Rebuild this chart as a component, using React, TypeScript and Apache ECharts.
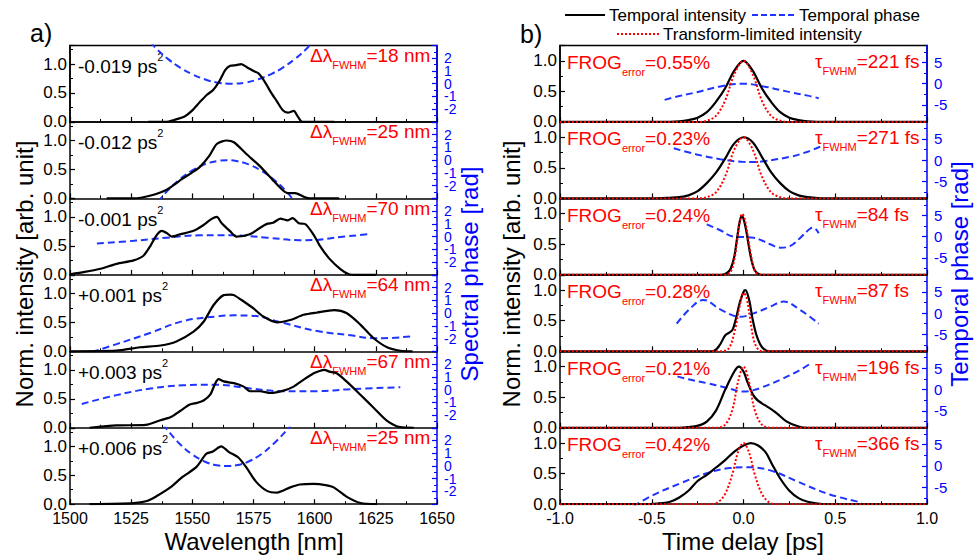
import React, { useEffect, useRef } from "react";
import * as echarts from "echarts";

const FONT = "'Liberation Sans', Arial, Helvetica, sans-serif";
const BLUE = "#0000ff";
const LINE_BLUE = "#1f35ff";
const RED = "#ff0000";

// ---------- labels ----------
const chirpLabels = ["-0.019", "-0.012", "-0.001", "+0.001", "+0.003", "+0.006"];
const bandwidthNm = [18, 25, 70, 64, 67, 25];
const frogErrors = ["0.55", "0.23", "0.24", "0.28", "0.21", "0.42"];
const pulseFs = [221, 271, 84, 87, 196, 366];

// ---------- panel a) spectra [wavelength nm, normalized intensity] ----------
const spec1 = [[1532,0],[1539,0],[1543,0.04],[1547,0.1],[1550,0.2],[1553,0.34],[1556,0.47],[1558.5,0.55],[1561,0.7],[1563.5,0.9],[1565.5,0.97],[1568,0.98],[1570,1.0],[1572.5,0.94],[1575,0.88],[1577,0.84],[1579.5,0.7],[1582,0.52],[1584.5,0.36],[1587,0.2],[1589,0.16],[1591.5,0.19],[1593,0.1],[1595,0],[1608,0]];
const spec2 = [[1515,0],[1526,0],[1533,0.05],[1539.5,0.15],[1546,0.34],[1550,0.45],[1553,0.54],[1557,0.74],[1560,0.94],[1564,1.0],[1567,0.97],[1572,0.77],[1578,0.54],[1583,0.31],[1587,0.14],[1589,0.09],[1592,0.09],[1595.5,0.03],[1598,0],[1610,0]];
const spec3 = [[1500,0.01],[1506,0.05],[1512,0.1],[1519,0.19],[1526,0.25],[1530,0.33],[1533,0.51],[1535.5,0.69],[1537.5,0.76],[1539.6,0.72],[1541.6,0.66],[1545,0.7],[1550.5,0.76],[1554.6,0.86],[1557.3,0.95],[1560,1.0],[1562,0.89],[1565.5,0.75],[1568,0.66],[1573.5,0.7],[1577.6,0.81],[1580.5,0.88],[1583,0.9],[1586,0.97],[1589,0.94],[1591,0.98],[1593.5,0.89],[1596,0.88],[1599.6,0.69],[1602,0.51],[1606,0.28],[1610.5,0.1],[1614,0.01],[1617,0],[1625,0]];
const spec4 = [[1500,0],[1519,0.01],[1528.6,0.07],[1537,0.1],[1543.5,0.17],[1550.5,0.34],[1554.6,0.51],[1558.7,0.8],[1562.8,0.97],[1565.5,0.98],[1567,0.97],[1571,0.86],[1575,0.74],[1579,0.6],[1584.6,0.5],[1590,0.54],[1595.5,0.63],[1601,0.67],[1608,0.71],[1613,0.66],[1618.7,0.46],[1624,0.23],[1629.6,0.07],[1635,0.01],[1640,0]];
const spec5 = [[1508,0],[1519,0.04],[1531,0.05],[1537,0.13],[1541,0.18],[1545,0.29],[1549,0.4],[1552,0.43],[1554.6,0.47],[1557.3,0.57],[1559.4,0.77],[1560.7,0.84],[1562.8,0.8],[1567,0.77],[1571,0.71],[1573.6,0.63],[1577.6,0.63],[1582,0.6],[1587.3,0.64],[1591.4,0.71],[1595.5,0.83],[1599.6,0.94],[1602,0.98],[1604,1.0],[1606,0.97],[1609,0.94],[1613,0.8],[1618.7,0.57],[1624,0.35],[1629.6,0.12],[1635,0.01],[1640.5,0]];
const spec6 = [[1508,0],[1526,0.02],[1531,0.05],[1535,0.13],[1541,0.29],[1546,0.47],[1551.6,0.64],[1555.7,0.87],[1558.4,0.91],[1561.8,1.0],[1565,0.9],[1568.7,0.81],[1572,0.64],[1576,0.39],[1580.5,0.23],[1584.6,0.2],[1590,0.29],[1594,0.34],[1599.6,0.35],[1604.4,0.33],[1607.8,0.29],[1613,0.13],[1618.7,0.02],[1625.5,0]];

// spectral phase [wavelength nm, rad]
const sph1 = [[1533,3.3],[1535,2.8],[1540,1.95],[1545,1.27],[1550,0.74],[1555,0.35],[1560,0.1],[1566,0],[1572,0.1],[1577,0.35],[1582,0.74],[1587,1.27],[1592,1.95],[1597,2.8],[1599,3.3]];
const sph2 = [[1536,-3.3],[1540,-2.36],[1545,-1.48],[1550,-0.8],[1555,-0.33],[1560,-0.07],[1564,0],[1568,-0.07],[1573,-0.33],[1578,-0.8],[1583,-1.48],[1588,-2.36],[1592,-3.3]];
const sph3 = [[1511,-0.54],[1526,-0.33],[1539.6,-0.08],[1553,0.1],[1567,0.1],[1580.5,-0.08],[1594,-0.28],[1601,-0.26],[1608,-0.08],[1621.5,0.18]];
const sph4 = [[1509,-3.05],[1519,-2.44],[1533,-1.54],[1546,-0.64],[1560,-0.26],[1567,-0.18],[1574,-0.2],[1587,-0.77],[1601,-1.41],[1614.6,-1.74],[1624,-1.97],[1628,-1.97],[1640.5,-1.8]];
const sph5 = [[1504.8,-1.13],[1519,-0.44],[1533,0.08],[1546,0.33],[1560,0.38],[1573.6,0.08],[1587,-0.13],[1601,-0.13],[1614.6,0.03],[1635,0.18]];
const sph6 = [[1538,3.3],[1539.5,2.9],[1545,1.7],[1550,0.9],[1555,0.35],[1560,0.05],[1564,0],[1568,0.05],[1573,0.35],[1578,0.9],[1583,1.7],[1589,2.9],[1590.5,3.3]];

// ---------- panel b) temporal intensity [delay ps, normalized] ----------
const pulse1 = [[-1,0],[-0.45,0],[-0.35,0.01],[-0.3,0.03],[-0.25,0.07],[-0.2,0.16],[-0.15,0.33],[-0.1,0.55],[-0.05,0.84],[0,1.0],[0.05,0.84],[0.1,0.55],[0.15,0.33],[0.2,0.16],[0.25,0.07],[0.3,0.03],[0.35,0.01],[0.45,0],[1,0]];
const pulse2 = [[-1,0],[-0.5,0],[-0.4,0.01],[-0.35,0.02],[-0.3,0.05],[-0.25,0.12],[-0.2,0.25],[-0.15,0.42],[-0.1,0.65],[-0.05,0.9],[0,1.0],[0.05,0.92],[0.1,0.68],[0.15,0.43],[0.2,0.25],[0.25,0.12],[0.3,0.05],[0.35,0.02],[0.45,0],[1,0]];
const pulse3 = [[-1,0],[-0.12,0],[-0.09,0.03],[-0.07,0.1],[-0.05,0.3],[-0.035,0.6],[-0.02,0.88],[-0.01,0.96],[0,0.92],[0.015,0.72],[0.03,0.45],[0.045,0.22],[0.06,0.08],[0.08,0.02],[0.1,0],[1,0]];
const pulse4 = [[-1,0],[-0.2,0],[-0.16,0.01],[-0.13,0.1],[-0.1,0.26],[-0.08,0.3],[-0.06,0.35],[-0.04,0.55],[-0.02,0.8],[0,0.97],[0.01,1.0],[0.03,0.85],[0.05,0.52],[0.07,0.27],[0.09,0.12],[0.11,0.04],[0.14,0],[1,0]];
const pulse5 = [[-1,0],[-0.35,0],[-0.3,0.01],[-0.25,0.03],[-0.2,0.1],[-0.15,0.28],[-0.1,0.62],[-0.05,0.92],[-0.025,1.0],[0,0.92],[0.02,0.76],[0.05,0.55],[0.073,0.46],[0.1,0.4],[0.127,0.35],[0.18,0.24],[0.236,0.1],[0.3,0.02],[0.35,0],[1,0]];
const pulse6 = [[-1,0],[-0.55,0],[-0.47,0.01],[-0.4,0.04],[-0.35,0.11],[-0.3,0.22],[-0.25,0.38],[-0.2,0.48],[-0.15,0.6],[-0.1,0.72],[-0.05,0.86],[0,0.96],[0.04,1.0],[0.08,0.96],[0.12,0.85],[0.16,0.63],[0.2,0.42],[0.25,0.22],[0.3,0.1],[0.35,0.04],[0.45,0],[1,0]];

// transform-limited intensity
const tl1 = [[-1,0],[-0.25,0],[-0.2,0.02],[-0.15,0.1],[-0.1,0.35],[-0.05,0.78],[0,1.0],[0.05,0.78],[0.1,0.35],[0.15,0.1],[0.2,0.02],[0.25,0],[1,0]];
const tl2 = [[-1,0],[-0.25,0],[-0.2,0.02],[-0.15,0.1],[-0.1,0.36],[-0.05,0.8],[0,1.0],[0.05,0.8],[0.1,0.36],[0.15,0.1],[0.2,0.02],[0.25,0],[1,0]];
const tl3 = [[-1,0],[-0.1,0],[-0.07,0.05],[-0.05,0.25],[-0.035,0.55],[-0.02,0.88],[-0.008,1.0],[0.005,0.93],[0.02,0.7],[0.035,0.42],[0.05,0.18],[0.065,0.05],[0.09,0],[1,0]];
const tl4 = [[-1,0],[-0.12,0],[-0.08,0.05],[-0.05,0.3],[-0.02,0.75],[0,0.95],[0.015,0.9],[0.035,0.55],[0.055,0.2],[0.075,0.05],[0.1,0],[1,0]];
const tl5 = [[-1,0],[-0.15,0],[-0.1,0.05],[-0.06,0.3],[-0.03,0.75],[0,1.0],[0.03,0.75],[0.06,0.3],[0.1,0.05],[0.15,0],[1,0]];
const tl6 = [[-1,0],[-0.18,0],[-0.14,0.03],[-0.1,0.17],[-0.06,0.5],[-0.03,0.85],[0,1.0],[0.03,0.85],[0.06,0.5],[0.1,0.17],[0.14,0.03],[0.18,0],[1,0]];

// temporal phase [delay ps, rad]
const tph1 = [[-0.43,-3.8],[-0.35,-2.9],[-0.255,-2.0],[-0.127,-0.63],[0,0],[0.11,-0.63],[0.255,-2.0],[0.35,-2.8],[0.41,-3.4]];
const tph2 = [[-0.38,2.8],[-0.255,1.35],[-0.127,0.24],[0,-0.4],[0.05,-0.45],[0.11,-0.24],[0.255,0.8],[0.35,2.0],[0.418,3.2]];
const tph3 = [[-0.2,2.9],[-0.127,1.5],[-0.055,0],[0,-0.1],[0.055,-0.24],[0.1,-0.9],[0.145,-1.8],[0.2,-2.6],[0.255,-2.2],[0.31,-0.24],[0.364,1.9],[0.38,2.1],[0.41,0.8]];
const tph4 = [[-0.364,-2.5],[-0.29,1.1],[-0.218,3.1],[-0.127,0.87],[-0.018,-0.87],[0.055,-0.08],[0.145,1.5],[0.218,2.7],[0.31,0.7],[0.41,-2.5]];
const tph5 = [[-0.36,3.1],[-0.3,2.4],[-0.2,1.5],[-0.1,0.5],[0,-0.45],[0.05,-0.2],[0.1,0.5],[0.2,2.3],[0.3,4.4],[0.36,6.0]];
const tph6 = [[-0.6,-9.5],[-0.49,-6.8],[-0.345,-4.1],[-0.2,-1.7],[-0.073,-0.5],[0.036,-0.3],[0.164,-1.3],[0.29,-3.6],[0.47,-6.7],[0.645,-8.6]];

const spectra = [spec1, spec2, spec3, spec4, spec5, spec6];
const spectralPhases = [sph1, sph2, sph3, sph4, sph5, sph6];
const pulses = [pulse1, pulse2, pulse3, pulse4, pulse5, pulse6];
const tlPulses = [tl1, tl2, tl3, tl4, tl5, tl6];
const temporalPhases = [tph1, tph2, tph3, tph4, tph5, tph6];

const phaseMajorB = [-5, 0, 5];
const phaseMinorB = [-7.5, -2.5, 2.5, 7.5];

function buildOption() {
  const grids: any[] = [];
  const xAxes: any[] = [];
  const yAxes: any[] = [];
  const series: any[] = [];
  const graphics: any[] = [];
  const TOP0 = 45.5;
  const SUB_H = 76.45;

  const tickCommon = (color: string) => ({
    show: true,
    inside: true,
    length: 5,
    lineStyle: { color, width: 1.2 },
  });
  const minorCommon = (color: string) => ({
    show: true,
    splitNumber: 2,
    length: 3,
    lineStyle: { color, width: 1 },
  });

  for (let p = 0; p < 2; p++) {
    for (let k = 0; k < 6; k++) {
      const gi = grids.length;
      const top = TOP0 + k * SUB_H;
      const left = p ? 560 : 70;
      grids.push({
        left,
        top,
        width: 367,
        height: SUB_H,
        show: k === 0,
        borderColor: "#000",
        borderWidth: 1.5,
        backgroundColor: "transparent",
        containLabel: false,
        outerBoundsMode: "none",
      });
      xAxes.push({
        gridIndex: gi,
        type: "value",
        position: "bottom",
        min: p ? -1 : 1500,
        max: p ? 1 : 1650,
        interval: p ? 0.5 : 25,
        axisLine: { show: true, onZero: false, lineStyle: { color: "#000", width: 1.5 } },
        axisTick: tickCommon("#000"),
        minorTick: minorCommon("#000"),
        splitLine: { show: false },
        axisLabel: {
          show: k === 5,
          color: "#000",
          fontSize: 16,
          fontFamily: FONT,
          margin: 6,
          formatter: (v: number) => (p ? v.toFixed(1) : String(v)),
        },
      });
      const yL = yAxes.length;
      yAxes.push({
        gridIndex: gi,
        type: "value",
        position: "left",
        min: 0,
        max: p ? 1.25 : 1.32,
        interval: 0.5,
        axisLine: { show: true, onZero: false, lineStyle: { color: "#000", width: 1.5 } },
        axisTick: tickCommon("#000"),
        minorTick: minorCommon("#000"),
        splitLine: { show: false },
        axisLabel: {
          color: "#000",
          fontSize: 17,
          lineHeight: 16,
          fontFamily: FONT,
          margin: 3,
          formatter: (v: number) => {
            const r = Math.round(v * 100) / 100;
            return r === 0 || r === 0.5 || r === 1 ? r.toFixed(1) : "";
          },
        },
      });
      const yR = yAxes.length;
      if (p === 0) {
        yAxes.push({
          gridIndex: gi,
          type: "value",
          position: "right",
          min: -3,
          max: 3,
          interval: 1,
          axisLine: { show: true, onZero: false, lineStyle: { color: BLUE, width: 1.5 } },
          axisTick: tickCommon(BLUE),
          minorTick: minorCommon(BLUE),
          splitLine: { show: false },
          axisLabel: {
            color: BLUE,
            fontSize: 14,
            lineHeight: 12,
            fontFamily: FONT,
            margin: 7,
            formatter: (v: number) => (Math.abs(v) > 2.5 ? "" : String(Math.round(v))),
          },
        });
      } else {
        yAxes.push({
          gridIndex: gi,
          type: "value",
          position: "right",
          min: -9,
          max: 9,
          axisLine: { show: true, onZero: false, lineStyle: { color: BLUE, width: 1.5 } },
          axisTick: { ...tickCommon(BLUE), customValues: phaseMajorB },
          splitLine: { show: false },
          axisLabel: {
            color: BLUE,
            fontSize: 15,
            lineHeight: 14,
            fontFamily: FONT,
            margin: 7,
            customValues: phaseMajorB,
            formatter: (v: number) => {
              const r = Math.round(v);
              return Math.abs(v - r) < 1e-6 && r % 5 === 0 && Math.abs(r) < 9 ? String(r) : "";
            },
          },
        });
        yAxes.push({
          gridIndex: gi,
          type: "value",
          position: "right",
          min: -9,
          max: 9,
          axisLine: { show: false, onZero: false },
          axisTick: { show: true, inside: true, length: 3, customValues: phaseMinorB, lineStyle: { color: BLUE, width: 1 } },
          splitLine: { show: false },
          axisLabel: { show: false },
        });
      }

      const base = { type: "line", xAxisIndex: gi, symbol: "none", showSymbol: false, silent: true, emphasis: { disabled: true }, clip: true };
      if (p === 0) {
        series.push({ ...base, name: "Spectral phase", yAxisIndex: yR, data: spectralPhases[k], smooth: 0.4, z: 2, lineStyle: { color: LINE_BLUE, width: 2, type: [7, 4] } });
        series.push({ ...base, name: "Spectrum", yAxisIndex: yL, data: spectra[k], smooth: 0.25, z: 3, lineStyle: { color: "#000", width: 2.2 } });
      } else {
        series.push({ ...base, name: "Temporal phase", yAxisIndex: yR, data: temporalPhases[k], smooth: 0.4, z: 2, lineStyle: { color: LINE_BLUE, width: 2, type: [7, 4] } });
        series.push({ ...base, name: "Temporal intensity", yAxisIndex: yL, data: pulses[k], smooth: 0.35, z: 3, lineStyle: { color: "#000", width: 2.2 } });
        series.push({ ...base, name: "Transform-limited intensity", yAxisIndex: yL, data: tlPulses[k], smooth: 0.35, z: 4, lineStyle: { color: RED, width: 2, type: [2, 2] } });
      }

      // annotations
      if (p === 0) {
        graphics.push({
          type: "text",
          x: 78,
          y: top + 21,
          silent: true,
          style: {
            text: `{m|${chirpLabels[k]} ps}{p|2}`,
            align: "left",
            verticalAlign: "middle",
            fill: "#000",
            rich: {
              m: { fontSize: 19, fontFamily: FONT, lineHeight: 30, verticalAlign: "middle", fill: "#000" },
              p: { fontSize: 11, fontFamily: FONT, lineHeight: 12, verticalAlign: "top", fill: "#000" },
            },
          },
        });
        graphics.push({
          type: "text",
          x: 310,
          y: top + 10,
          silent: true,
          style: {
            text: `{m|Δλ}{s|FWHM}{m|=${bandwidthNm[k]} nm}`,
            align: "left",
            verticalAlign: "middle",
            fill: RED,
            rich: {
              m: { fontSize: 19, fontFamily: FONT, lineHeight: 30, verticalAlign: "middle", fill: RED },
              s: { fontSize: 11, fontFamily: FONT, lineHeight: 12, verticalAlign: "bottom", fill: RED },
            },
          },
        });
      } else {
        graphics.push({
          type: "text",
          x: 567,
          y: top + 17,
          silent: true,
          style: {
            text: `{m|FROG}{s|error}{m|=${frogErrors[k]}%}`,
            align: "left",
            verticalAlign: "middle",
            fill: RED,
            rich: {
              m: { fontSize: 19, fontFamily: FONT, lineHeight: 30, verticalAlign: "middle", fill: RED },
              s: { fontSize: 11, fontFamily: FONT, lineHeight: 12, verticalAlign: "bottom", fill: RED },
            },
          },
        });
        graphics.push({
          type: "text",
          x: 815,
          y: top + 16,
          silent: true,
          style: {
            text: `{m|τ}{s|FWHM}{m|=${pulseFs[k]} fs}`,
            align: "left",
            verticalAlign: "middle",
            fill: RED,
            rich: {
              m: { fontSize: 19, fontFamily: FONT, lineHeight: 30, verticalAlign: "middle", fill: RED },
              s: { fontSize: 11, fontFamily: FONT, lineHeight: 12, verticalAlign: "bottom", fill: RED },
            },
          },
        });
      }
    }
  }

  const txt = (x: number, y: number, text: string, opts: any = {}) => ({
    type: "text",
    x,
    y,
    rotation: opts.rotation || 0,
    silent: true,
    style: {
      text,
      fill: opts.fill || "#000",
      fontSize: opts.fontSize || 24,
      fontFamily: FONT,
      align: opts.align || "center",
      verticalAlign: "middle",
    },
  });

  // panel letters
  graphics.push(txt(30, 33, "a)", { align: "left", fontSize: 25 }));
  graphics.push(txt(520, 34, "b)", { align: "left", fontSize: 25 }));
  // axis titles
  graphics.push(txt(24, 274, "Norm. intensity [arb. unit]", { rotation: Math.PI / 2 }));
  graphics.push(txt(469, 274, "Spectral phase [rad]", { rotation: Math.PI / 2, fill: BLUE }));
  graphics.push(txt(511, 274, "Norm. intensity [arb. unit]", { rotation: Math.PI / 2 }));
  graphics.push(txt(959, 274, "Temporal phase [rad]", { rotation: Math.PI / 2, fill: BLUE }));
  graphics.push(txt(254, 541, "Wavelength [nm]"));
  graphics.push(txt(743, 541, "Time delay [ps]"));

  // legend
  graphics.push({ type: "line", silent: true, shape: { x1: 565, y1: 15, x2: 605, y2: 15 }, style: { stroke: "#000", lineWidth: 2 } });
  graphics.push(txt(609, 15, "Temporal intensity", { align: "left", fontSize: 17 }));
  graphics.push({ type: "line", silent: true, shape: { x1: 752, y1: 15, x2: 796, y2: 15 }, style: { stroke: LINE_BLUE, lineWidth: 2, lineDash: [6, 3] } });
  graphics.push(txt(799, 15, "Temporal phase", { align: "left", fontSize: 17 }));
  graphics.push({ type: "line", silent: true, shape: { x1: 617, y1: 34, x2: 660, y2: 34 }, style: { stroke: RED, lineWidth: 2, lineDash: [2, 2] } });
  graphics.push(txt(663, 34, "Transform-limited intensity", { align: "left", fontSize: 17 }));

  return {
    animation: false,
    backgroundColor: "#fff",
    textStyle: { fontFamily: FONT },
    grid: grids,
    xAxis: xAxes,
    yAxis: yAxes,
    series,
    graphic: { elements: graphics },
  };
}

export default function App() {
  const ref = useRef<HTMLDivElement>(null);
  useEffect(() => {
    document.body.style.margin = "0";
    const chart = echarts.init(ref.current as HTMLDivElement, null, { renderer: "svg" });
    chart.setOption(buildOption() as any);
    return () => chart.dispose();
  }, []);
  return <div ref={ref} style={{ width: 977, height: 556 }} />;
}
